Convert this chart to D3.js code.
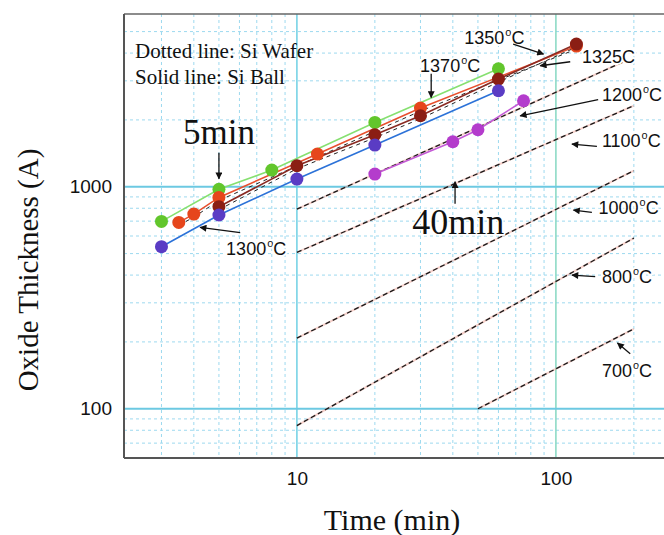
<!DOCTYPE html>
<html>
<head>
<meta charset="utf-8">
<script src="https://cdn.jsdelivr.net/npm/d3@7"></script>
<style>
  body { margin: 0; background: #fff; }
  svg { display: block; }
</style>
</head>
<body>
<div id="chart"></div>
<script>
// Si ball oxidation (solid lines), time in min, thickness in A
const t1370 = [3, 5, 8, 20, 60];
const a1370 = [698, 974, 1189, 1949, 3401];
const t1350 = [3.5, 4, 5, 12, 30, 120];
const a1350 = [691, 753, 895, 1404, 2262, 4300];
const t1325 = [5, 10, 20, 30, 60, 120];
const a1325 = [813, 1243, 1715, 2089, 3055, 4392];
const t1300 = [3, 5, 10, 20, 60];
const a1300 = [537, 746, 1083, 1541, 2706];
const t1200 = [20, 40, 50, 75];
const a1200 = [1141, 1595, 1806, 2440];

// Si wafer (dotted lines), start / end points
const wafer1200 = [[10, 793], [182, 3650]];
const wafer1100 = [[10, 506], [200, 2319]];
const wafer1000 = [[10, 208], [200, 1181]];
const wafer800 = [[10, 84], [200, 587]];
const wafer700 = [[50, 100], [200, 229]];

const xTicks = [10, 100];
const yTicks = [100, 1000];
const xMinor = [3, 4, 5, 6, 7, 8, 9, 20, 30, 40, 50, 60, 70, 80, 90, 200];
const yMinor = [70, 80, 90, 200, 300, 400, 500, 600, 700, 800, 900, 2000, 3000, 4000, 5000];

var width = 664, height = 535;
var margin = {top: 14, left: 124, bottom: 458};

var svg = d3.select("#chart").append("svg")
  .attr("width", width).attr("height", height);

var x = d3.scaleLog().domain([2.15, 300]).range([margin.left, margin.left + 259 * Math.log10(300 / 2.15)]);
var y = d3.scaleLog().domain([60, 6000]).range([margin.bottom, margin.top]);

var x0 = x.range()[0], x1 = x.range()[1];
var y0 = y.range()[0], y1 = y.range()[1];

svg.append("defs").append("clipPath").attr("id", "clip")
  .append("rect").attr("x", x0).attr("y", y1).attr("width", x1 - x0).attr("height", y0 - y1);

svg.select("defs").append("marker")
  .attr("id", "arrow")
  .attr("viewBox", "0 0 10 10")
  .attr("refX", 9).attr("refY", 5)
  .attr("markerWidth", 10).attr("markerHeight", 7)
  .attr("markerUnits", "userSpaceOnUse")
  .attr("orient", "auto")
  .append("path").attr("d", "M0,0L10,5L0,10z").attr("fill", "#111");

var g = svg.append("g").attr("clip-path", "url(#clip)");

// grid
g.selectAll(".vminor").data(xMinor).enter().append("line")
  .attr("x1", d => x(d)).attr("x2", d => x(d)).attr("y1", y1).attr("y2", y0)
  .attr("stroke", "#9dd9ef").attr("stroke-width", 1).attr("stroke-dasharray", "3,3");
g.selectAll(".hminor").data(yMinor).enter().append("line")
  .attr("y1", d => y(d)).attr("y2", d => y(d)).attr("x1", x0).attr("x2", x1)
  .attr("stroke", "#9dd9ef").attr("stroke-width", 1).attr("stroke-dasharray", "3,3");
g.selectAll(".vmajor").data(xTicks).enter().append("line")
  .attr("x1", d => x(d)).attr("x2", d => x(d)).attr("y1", y1).attr("y2", y0)
  .attr("stroke", (d, i) => i ? "#86d8c2" : "#6fd0e4").attr("stroke-width", 1.5);
g.selectAll(".hmajor").data(yTicks).enter().append("line")
  .attr("y1", d => y(d)).attr("y2", d => y(d)).attr("x1", x0).attr("x2", x1)
  .attr("stroke", "#6cc9e2").attr("stroke-width", 1.8);

// wafer dashed lines
var line = d3.line().x(d => x(d[0])).y(d => y(d[1]));
[wafer1200, wafer1100, wafer1000, wafer800, wafer700].forEach(function(w) {
  g.append("path").attr("d", line(w)).attr("fill", "none")
    .attr("stroke", "#e98a7a").attr("stroke-width", 2).attr("opacity", 0.4);
  g.append("path").attr("d", line(w)).attr("fill", "none")
    .attr("stroke", "#1a1a1a").attr("stroke-width", 1.3).attr("stroke-dasharray", "5,3");
});

// ball series
var series = [
  {t: t1370, a: a1370, line: "#86e070", dot: "#62c62c"},
  {t: t1350, a: a1350, line: "#e8502e", dot: "#e6461c", dash: true},
  {t: t1325, a: a1325, line: "#8a2a22", dot: "#8b1e14", dash: true},
  {t: t1300, a: a1300, line: "#2c72d8", dot: "#5a3cc4"},
  {t: t1200, a: a1200, line: "#c45ad6", dot: "#b43ccc"}
];

series.forEach(function(s) {
  var pts = s.t.map((t, i) => [t, s.a[i]]);
  g.append("path").attr("d", line(pts)).attr("fill", "none")
    .attr("stroke", s.line).attr("stroke-width", 1.6);
  if (s.dash) {
    g.append("path").attr("d", line(pts)).attr("fill", "none")
      .attr("stroke", "#222").attr("stroke-width", 1).attr("stroke-dasharray", "4,4")
      .attr("transform", "translate(0,3)");
  }
});
series.forEach(function(s) {
  var pts = s.t.map((t, i) => [t, s.a[i]]);
  g.selectAll(null).data(pts).enter().append("circle")
    .attr("cx", d => x(d[0])).attr("cy", d => y(d[1])).attr("r", 6.5)
    .attr("fill", s.dot);
});

// frame
svg.append("line").attr("x1", x0).attr("x2", width).attr("y1", y1).attr("y2", y1)
  .attr("stroke", "#666").attr("stroke-width", 1.5);
svg.append("line").attr("x1", x0).attr("x2", x0).attr("y1", y1).attr("y2", y0)
  .attr("stroke", "#555").attr("stroke-width", 2);
svg.append("line").attr("x1", x0).attr("x2", width).attr("y1", y0).attr("y2", y0)
  .attr("stroke", "#555").attr("stroke-width", 2);

// axes labels
var ax = svg.append("g").attr("transform", "translate(0," + y0 + ")")
  .call(d3.axisBottom(x).tickValues(xTicks).tickSize(0).tickPadding(14).tickFormat(d3.format("d")));
var ay = svg.append("g").attr("transform", "translate(" + x0 + ",0)")
  .call(d3.axisLeft(y).tickValues(yTicks).tickSize(0).tickPadding(12).tickFormat(d3.format("d")));
[ax, ay].forEach(function(a) {
  a.select(".domain").remove();
  a.selectAll("text").attr("font-family", "Liberation Sans, Arial, sans-serif")
    .attr("font-size", 19).attr("fill", "#111");
});

svg.append("text").attr("x", 392).attr("y", 530).attr("text-anchor", "middle")
  .attr("font-family", "Liberation Serif, Times New Roman, serif").attr("font-size", 30)
  .attr("fill", "#111").text("Time (min)");
svg.append("text").attr("transform", "translate(38,270) rotate(-90)").attr("text-anchor", "middle")
  .attr("font-family", "Liberation Serif, Times New Roman, serif").attr("font-size", 29)
  .attr("fill", "#111").text("Oxide Thickness (A)");

// annotations
var serif = "Liberation Serif, Times New Roman, serif";
var sans = "Liberation Sans, Arial, sans-serif";

svg.append("text").attr("x", x0 + 11).attr("y", y(3811))
  .attr("font-family", serif).attr("font-size", 21).attr("fill", "#111").text("Dotted line: Si Wafer");
svg.append("text").attr("x", x0 + 11).attr("y", y(2901))
  .attr("font-family", serif).attr("font-size", 21).attr("fill", "#111").text("Solid line: Si Ball");

svg.append("text").attr("x", x(5)).attr("y", y(1557)).attr("text-anchor", "middle")
  .attr("font-family", serif).attr("font-size", 35).attr("fill", "#111").text("5min");
svg.append("text").attr("x", x(42)).attr("y", y(612)).attr("text-anchor", "middle")
  .attr("font-family", serif).attr("font-size", 36).attr("fill", "#111")
  .attr("stroke", "#fff").attr("stroke-width", 3).attr("paint-order", "stroke").text("40min");

const labels = [
  {txt: "1370", deg: true, t: 29.9, a: 3273},
  {txt: "1350", deg: true, t: 44.3, a: 4393},
  {txt: "1325C", deg: false, t: 126, a: 3593},
  {txt: "1200", deg: true, t: 150.5, a: 2440},
  {txt: "1100", deg: true, t: 150.5, a: 1503},
  {txt: "1000", deg: true, t: 146, a: 753},
  {txt: "800", deg: true, t: 150.5, a: 370},
  {txt: "700", deg: true, t: 150.5, a: 138.4},
  {txt: "1300", deg: true, t: 5.33, a: 494}
];
const arrows = [
  [33, 3228, 33, 2525],
  [68.4, 4393, 89.6, 3961],
  [113.6, 3656, 87, 3508],
  [145.6, 2466, 72.8, 2088],
  [144, 1519, 115.3, 1557],
  [137.7, 766, 116.9, 785],
  [141.8, 394, 115.3, 400],
  [193.6, 177, 172.9, 197.7],
  [6.04, 622, 4.23, 656],
  [5, 1423, 5, 1087],
  [40.8, 838, 40.8, 1053]
];

labels.forEach(function(l) {
  var tx = svg.append("text").attr("x", x(l.t)).attr("y", y(l.a))
    .attr("font-family", sans).attr("font-size", 18).attr("fill", "#111")
    .attr("stroke", "#fff").attr("stroke-width", 4).attr("paint-order", "stroke");
  tx.append("tspan").text(l.txt);
  if (l.deg) {
    tx.append("tspan").attr("font-size", 11).attr("dy", -8).attr("dx", 1).text("o");
    tx.append("tspan").attr("dy", 8).text("C");
  }
});

svg.selectAll(".arrow").data(arrows).enter().append("line")
  .attr("x1", d => x(d[0])).attr("y1", d => y(d[1]))
  .attr("x2", d => x(d[2])).attr("y2", d => y(d[3]))
  .attr("stroke", "#111").attr("stroke-width", 1.3)
  .attr("marker-end", "url(#arrow)");
</script>
</body>
</html>
